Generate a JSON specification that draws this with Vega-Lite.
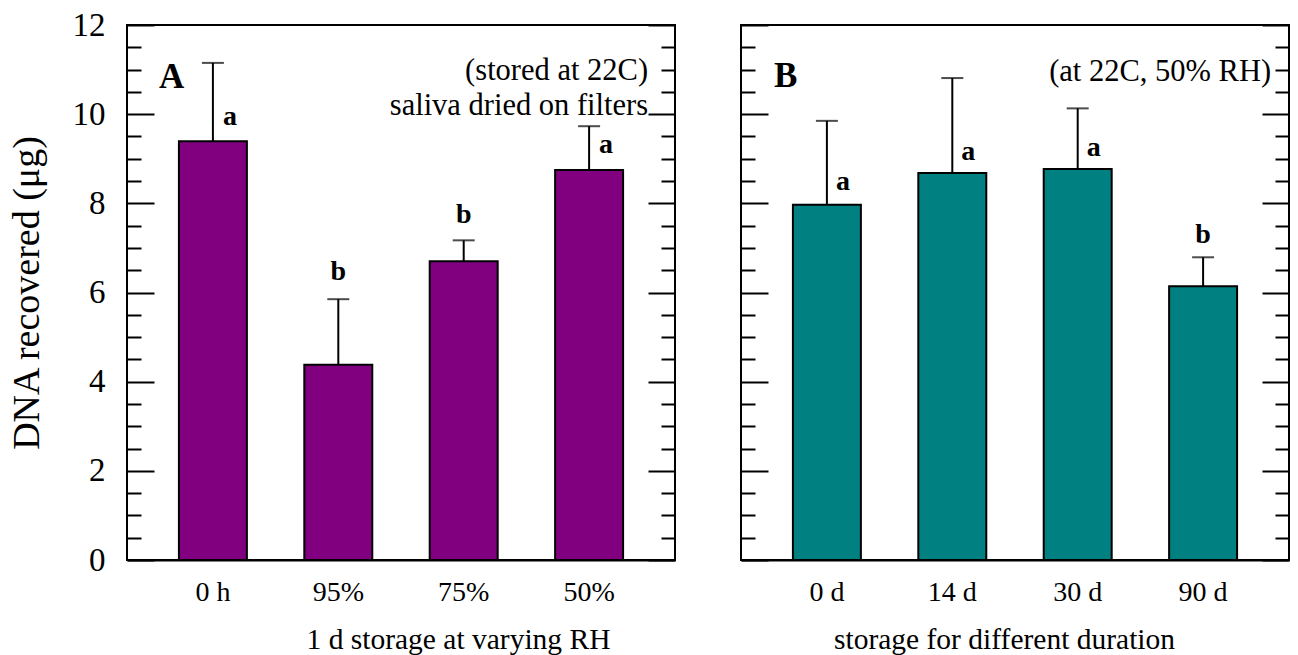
{
  "$schema": "https://vega.github.io/schema/vega-lite/v6.json",
  "background": "white",
  "padding": {"left": 7, "top": 8, "right": 6, "bottom": 5},
  "datasets": {
    "bars": [
      {"panel": "A", "cat": "0 h", "value": 9.39, "upper": 11.15, "letter": "a", "letter_y": 9.93},
      {"panel": "A", "cat": "95%", "value": 4.38, "upper": 5.85, "letter": "b", "letter_y": 6.45},
      {"panel": "A", "cat": "75%", "value": 6.70, "upper": 7.17, "letter": "b", "letter_y": 7.74},
      {"panel": "A", "cat": "50%", "value": 8.75, "upper": 9.73, "letter": "a", "letter_y": 9.30},
      {"panel": "B", "cat": "0 d", "value": 7.97, "upper": 9.85, "letter": "a", "letter_y": 8.48},
      {"panel": "B", "cat": "14 d", "value": 8.68, "upper": 10.81, "letter": "a", "letter_y": 9.16},
      {"panel": "B", "cat": "30 d", "value": 8.77, "upper": 10.13, "letter": "a", "letter_y": 9.25},
      {"panel": "B", "cat": "90 d", "value": 6.14, "upper": 6.79, "letter": "b", "letter_y": 7.28}
    ],
    "notes": [
      {"panel": "A", "kind": "tag", "cat": "0 h", "text": "A", "y": 10.59},
      {"panel": "A", "kind": "note", "cat": "50%", "text": "(stored at 22C)", "y": 10.77},
      {"panel": "A", "kind": "note", "cat": "50%", "text": "saliva dried on filters", "y": 9.98},
      {"panel": "B", "kind": "tag", "cat": "0 d", "text": "B", "y": 10.6},
      {"panel": "B", "kind": "note", "cat": "90 d", "text": "(at 22C, 50% RH)", "y": 10.74}
    ]
  },
  "config": {
    "font": "Liberation Serif",
    "view": {"stroke": "black", "strokeWidth": 2},
    "axis": {
      "domainColor": "black", "domainWidth": 2, "tickColor": "black", "tickWidth": 2,
      "labelColor": "black", "titleColor": "black", "labelFont": "Liberation Serif",
      "titleFont": "Liberation Serif", "titleFontWeight": "normal", "grid": false
    }
  },
  "spacing": 66,
  "bounds": "flush",
  "hconcat": [
    {
      "width": 548, "height": 535,
      "resolve": {"axis": {"y": "independent"}},
      "layer": [
        {
          "data": {"name": "bars"}, "transform": [{"filter": "datum.panel === 'A'"}],
          "mark": {"type": "bar", "color": "#800080", "stroke": "black", "strokeWidth": 2},
          "encoding": {
            "x": {"field": "cat", "type": "nominal", "sort": null,
              "scale": {"domain": ["0 h", "95%", "75%", "50%"], "paddingInner": 0.458, "paddingOuter": 0.414},
              "axis": {"title": "1 d storage at varying RH", "labelAngle": 0, "labelFontSize": 28, "titleFontSize": 29.5, "ticks": false, "labelPadding": 18, "titlePadding": 19, "titleX": 331, "titleAlign": "center"}},
            "y": {"field": "value", "type": "quantitative", "scale": {"domain": [0, 12], "nice": false},
              "axis": {"orient": "left", "values": [0, 2, 4, 6, 8, 10, 12], "format": "d", "tickSize": 27, "offset": -27, "domain": false,
                "labelOverlap": false, "labelFlush": false, "labelFontSize": 33, "labelPadding": 22,
                "title": "DNA recovered (μg)", "titleFontSize": 38, "titlePadding": 26}}
          }
        },
        {
          "data": {"name": "bars"}, "transform": [{"filter": "datum.panel === 'A'"}],
          "mark": {"type": "rule", "color": "black", "strokeWidth": 2},
          "encoding": {
            "x": {"field": "cat", "type": "nominal", "sort": null},
            "y": {"field": "value", "type": "quantitative",
              "axis": {"orient": "right", "values": [0, 2, 4, 6, 8, 10, 12], "tickSize": 27, "offset": -27, "domain": false, "labels": false, "title": null}},
            "y2": {"field": "upper"}
          }
        },
        {
          "data": {"name": "bars"}, "transform": [{"filter": "datum.panel === 'A'"}],
          "mark": {"type": "tick", "color": "black", "thickness": 2, "size": 22},
          "encoding": {
            "x": {"field": "cat", "type": "nominal", "sort": null},
            "y": {"field": "upper", "type": "quantitative",
              "axis": {"orient": "left", "values": [0.5, 1, 1.5, 2.5, 3, 3.5, 4.5, 5, 5.5, 6.5, 7, 7.5, 8.5, 9, 9.5, 10.5, 11, 11.5], "tickSize": 14, "offset": -14, "labels": false, "domain": false, "title": null}}
          }
        },
        {
          "data": {"name": "bars"}, "transform": [{"filter": "datum.panel === 'A' && datum.letter_y < datum.upper"}],
          "mark": {"type": "text", "fontWeight": "bold", "fontSize": 28, "dx": 17, "baseline": "middle", "color": "black"},
          "encoding": {
            "x": {"field": "cat", "type": "nominal", "sort": null},
            "y": {"field": "letter_y", "type": "quantitative",
              "axis": {"orient": "right", "values": [0.5, 1, 1.5, 2.5, 3, 3.5, 4.5, 5, 5.5, 6.5, 7, 7.5, 8.5, 9, 9.5, 10.5, 11, 11.5], "tickSize": 14, "offset": -14, "labels": false, "domain": false, "title": null}},
            "text": {"field": "letter"}
          }
        },
        {
          "data": {"name": "bars"}, "transform": [{"filter": "datum.panel === 'A' && datum.letter_y >= datum.upper"}],
          "mark": {"type": "text", "fontWeight": "bold", "fontSize": 28, "baseline": "middle", "color": "black"},
          "encoding": {
            "x": {"field": "cat", "type": "nominal", "sort": null},
            "y": {"field": "letter_y", "type": "quantitative", "axis": null},
            "text": {"field": "letter"}
          }
        },
        {
          "data": {"name": "notes"}, "transform": [{"filter": "datum.panel === 'A' && datum.kind === 'tag'"}],
          "mark": {"type": "text", "fontWeight": "bold", "fontSize": 35, "align": "left", "baseline": "alphabetic", "dx": -20, "color": "black"},
          "encoding": {
            "x": {"field": "cat", "type": "nominal", "sort": null, "bandPosition": 0},
            "y": {"field": "y", "type": "quantitative", "axis": null},
            "text": {"field": "text"}
          }
        },
        {
          "data": {"name": "notes"}, "transform": [{"filter": "datum.panel === 'A' && datum.kind === 'note'"}],
          "mark": {"type": "text", "fontSize": 30.5, "align": "right", "baseline": "alphabetic", "dx": 25, "color": "black"},
          "encoding": {
            "x": {"field": "cat", "type": "nominal", "sort": null, "bandPosition": 1},
            "y": {"field": "y", "type": "quantitative", "axis": null},
            "text": {"field": "text"}
          }
        }
      ]
    },
    {
      "width": 548, "height": 535,
      "resolve": {"axis": {"y": "independent"}},
      "layer": [
        {
          "data": {"name": "bars"}, "transform": [{"filter": "datum.panel === 'B'"}],
          "mark": {"type": "bar", "color": "#008080", "stroke": "black", "strokeWidth": 2},
          "encoding": {
            "x": {"field": "cat", "type": "nominal", "sort": null,
              "scale": {"domain": ["0 d", "14 d", "30 d", "90 d"], "paddingInner": 0.458, "paddingOuter": 0.414},
              "axis": {"title": "storage for different duration", "labelAngle": 0, "labelFontSize": 28, "titleFontSize": 29.5, "ticks": false, "labelPadding": 18, "titlePadding": 19, "titleX": 263, "titleAlign": "center"}},
            "y": {"field": "value", "type": "quantitative", "scale": {"domain": [0, 12], "nice": false},
              "axis": {"orient": "left", "values": [0, 2, 4, 6, 8, 10, 12], "tickSize": 27, "offset": -27, "domain": false, "labels": false, "title": null}}
          }
        },
        {
          "data": {"name": "bars"}, "transform": [{"filter": "datum.panel === 'B'"}],
          "mark": {"type": "rule", "color": "black", "strokeWidth": 2},
          "encoding": {
            "x": {"field": "cat", "type": "nominal", "sort": null},
            "y": {"field": "value", "type": "quantitative",
              "axis": {"orient": "right", "values": [0, 2, 4, 6, 8, 10, 12], "tickSize": 27, "offset": -27, "domain": false, "labels": false, "title": null}},
            "y2": {"field": "upper"}
          }
        },
        {
          "data": {"name": "bars"}, "transform": [{"filter": "datum.panel === 'B'"}],
          "mark": {"type": "tick", "color": "black", "thickness": 2, "size": 22},
          "encoding": {
            "x": {"field": "cat", "type": "nominal", "sort": null},
            "y": {"field": "upper", "type": "quantitative",
              "axis": {"orient": "left", "values": [0.5, 1, 1.5, 2.5, 3, 3.5, 4.5, 5, 5.5, 6.5, 7, 7.5, 8.5, 9, 9.5, 10.5, 11, 11.5], "tickSize": 14, "offset": -14, "labels": false, "domain": false, "title": null}}
          }
        },
        {
          "data": {"name": "bars"}, "transform": [{"filter": "datum.panel === 'B' && datum.letter_y < datum.upper"}],
          "mark": {"type": "text", "fontWeight": "bold", "fontSize": 28, "dx": 16, "baseline": "middle", "color": "black"},
          "encoding": {
            "x": {"field": "cat", "type": "nominal", "sort": null},
            "y": {"field": "letter_y", "type": "quantitative",
              "axis": {"orient": "right", "values": [0.5, 1, 1.5, 2.5, 3, 3.5, 4.5, 5, 5.5, 6.5, 7, 7.5, 8.5, 9, 9.5, 10.5, 11, 11.5], "tickSize": 14, "offset": -14, "labels": false, "domain": false, "title": null}},
            "text": {"field": "letter"}
          }
        },
        {
          "data": {"name": "bars"}, "transform": [{"filter": "datum.panel === 'B' && datum.letter_y >= datum.upper"}],
          "mark": {"type": "text", "fontWeight": "bold", "fontSize": 28, "baseline": "middle", "color": "black"},
          "encoding": {
            "x": {"field": "cat", "type": "nominal", "sort": null},
            "y": {"field": "letter_y", "type": "quantitative", "axis": null},
            "text": {"field": "letter"}
          }
        },
        {
          "data": {"name": "notes"}, "transform": [{"filter": "datum.panel === 'B' && datum.kind === 'tag'"}],
          "mark": {"type": "text", "fontWeight": "bold", "fontSize": 35, "align": "left", "baseline": "alphabetic", "dx": -19, "color": "black"},
          "encoding": {
            "x": {"field": "cat", "type": "nominal", "sort": null, "bandPosition": 0},
            "y": {"field": "y", "type": "quantitative", "axis": null},
            "text": {"field": "text"}
          }
        },
        {
          "data": {"name": "notes"}, "transform": [{"filter": "datum.panel === 'B' && datum.kind === 'note'"}],
          "mark": {"type": "text", "fontSize": 30.5, "align": "right", "baseline": "alphabetic", "dx": 34, "color": "black"},
          "encoding": {
            "x": {"field": "cat", "type": "nominal", "sort": null, "bandPosition": 1},
            "y": {"field": "y", "type": "quantitative", "axis": null},
            "text": {"field": "text"}
          }
        }
      ]
    }
  ]
}
